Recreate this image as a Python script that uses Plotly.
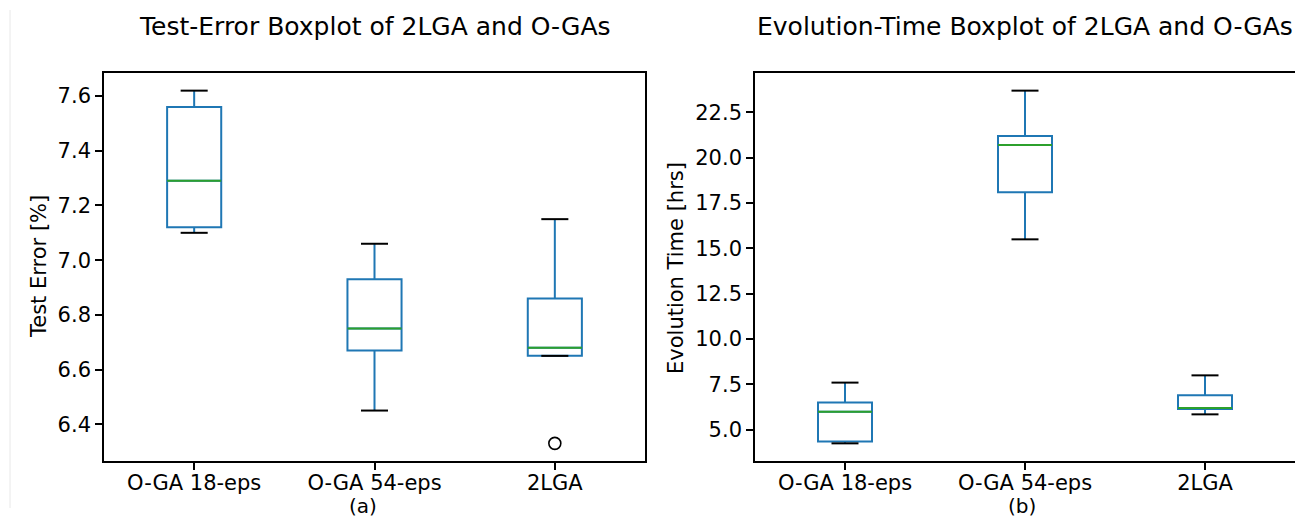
import plotly.graph_objects as go

# ---------------- data ----------------
categories = ["O-GA 18-eps", "O-GA 54-eps", "2LGA"]
positions = [1, 2, 3]

# Test error [%]
err_low = [7.10, 6.45, 6.65]
err_q1 = [7.12, 6.67, 6.65]
err_med = [7.29, 6.75, 6.68]
err_q3 = [7.56, 6.93, 6.86]
err_high = [7.62, 7.06, 7.15]
err_outlier_pos = [3]
err_outlier_val = [6.33]

# Evolution time [hrs]
time_low = [4.25, 15.5, 5.85]
time_q1 = [4.35, 18.1, 6.15]
time_med = [6.0, 20.7, 6.2]
time_q3 = [6.5, 21.2, 6.9]
time_high = [7.6, 23.7, 8.0]

err_ticks = [6.4, 6.6, 6.8, 7.0, 7.2, 7.4, 7.6]
time_ticks = [5.0, 7.5, 10.0, 12.5, 15.0, 17.5, 20.0, 22.5]

# ---------------- style ----------------
W, H = 1295, 518
ML, MR, MT, MB = 104, 0, 73, 57
PW = W - ML - MR
PH = H - MT - MB
BLUE = "#1f77b4"
GREEN = "#2ca02c"
FONT = "DejaVu Sans"
BOX_W = 0.3
CAP_HALF = 0.075


def px_x(p):
    return (p - ML) / PW


def px_y(p):
    return (H - MB - p) / PH


fig = go.Figure()


def add_panel(xa, ya, low, q1, med, q3, high, out_pos=None, out_val=None):
    fig.add_trace(go.Box(
        x=positions, q1=q1, median=med, q3=q3, lowerfence=low, upperfence=high,
        width=BOX_W, whiskerwidth=0, fillcolor="rgba(0,0,0,0)",
        line=dict(color=BLUE, width=2), boxpoints=False,
        xaxis=xa, yaxis=ya, showlegend=False, hoverinfo="skip",
    ))
    # medians
    mx, my = [], []
    for p, m in zip(positions, med):
        mx += [p - BOX_W / 2, p + BOX_W / 2, None]
        my += [m, m, None]
    fig.add_trace(go.Scatter(x=mx, y=my, mode="lines", line=dict(color=GREEN, width=2),
                             xaxis=xa, yaxis=ya, showlegend=False, hoverinfo="skip"))
    # caps
    cx, cy = [], []
    for p, lo, hi in zip(positions, low, high):
        cx += [p - CAP_HALF, p + CAP_HALF, None, p - CAP_HALF, p + CAP_HALF, None]
        cy += [lo, lo, None, hi, hi, None]
    fig.add_trace(go.Scatter(x=cx, y=cy, mode="lines", line=dict(color="black", width=2),
                             xaxis=xa, yaxis=ya, showlegend=False, hoverinfo="skip"))
    if out_pos:
        fig.add_trace(go.Scatter(x=out_pos, y=out_val, mode="markers",
                                 marker=dict(symbol="circle-open", size=12, color="black",
                                             line=dict(width=1.6, color="black")),
                                 xaxis=xa, yaxis=ya, showlegend=False, hoverinfo="skip"))


add_panel("x", "y", err_low, err_q1, err_med, err_q3, err_high, err_outlier_pos, err_outlier_val)
add_panel("x2", "y2", time_low, time_q1, time_med, time_q3, time_high)


def yrange(vals):
    lo, hi = min(vals), max(vals)
    m = (hi - lo) * 0.05
    return [lo - m, hi + m]


axis_common = dict(showline=True, linecolor="black", linewidth=1.6,
                   ticks="outside", ticklen=7, tickwidth=1.6, tickcolor="black",
                   showgrid=False, zeroline=False,
                   tickfont=dict(family=FONT, size=21, color="black"))

left_dom = [0, px_x(645)]
right_dom = [px_x(755), 1.0]

fig.update_layout(
    width=W, height=H,
    margin=dict(l=ML, r=MR, t=MT, b=MB),
    paper_bgcolor="white", plot_bgcolor="white",
    font=dict(family=FONT, color="black"),
    xaxis=dict(domain=left_dom, range=[0.5, 3.5], tickvals=positions, ticktext=categories,
               anchor="y", mirror=True, ticklabelstandoff=-5, **axis_common),
    yaxis=dict(domain=[0, 1], range=yrange(err_low + err_high + err_outlier_val),
               tickvals=err_ticks, ticktext=[f"{v:.1f}" for v in err_ticks],
               anchor="x", mirror=True, **axis_common),
    xaxis2=dict(domain=right_dom, range=[0.5, 3.5], tickvals=positions, ticktext=categories,
                anchor="y2", mirror=True, ticklabelstandoff=-5, **axis_common),
    yaxis2=dict(domain=[0, 1], range=yrange(time_low + time_high),
                tickvals=time_ticks, ticktext=[f"{v:.1f}" for v in time_ticks],
                anchor="x2", mirror=False, **axis_common),
)

annos = [
    dict(text="Test-Error Boxplot of 2LGA and O-GAs", x=px_x(375), y=px_y(27), size=25, angle=0),
    dict(text="Evolution-Time Boxplot of 2LGA and O-GAs", x=px_x(1025), y=px_y(27), size=25, angle=0),
    dict(text="Test Error [%]", x=px_x(39), y=px_y(267), size=21, angle=-90),
    dict(text="Evolution Time [hrs]", x=px_x(676), y=px_y(268), size=21, angle=-90),
    dict(text="(a)", x=px_x(363), y=px_y(506), size=20, angle=0),
    dict(text="(b)", x=px_x(1022), y=px_y(506), size=20, angle=0),
]
for a in annos:
    fig.add_annotation(text=a["text"], x=a["x"], y=a["y"], xref="paper", yref="paper",
                       xanchor="center", yanchor="middle", showarrow=False,
                       textangle=a["angle"], font=dict(family=FONT, size=a["size"], color="black"))

# faint border line at the far left of the original image
fig.add_shape(type="line", xref="paper", yref="paper", x0=px_x(10), x1=px_x(10),
              y0=px_y(10), y1=px_y(508), line=dict(color="#e8e8e8", width=1))

fig.write_html("out.html", config={"displayModeBar": False},
               post_script="document.body.style.margin='0';")
